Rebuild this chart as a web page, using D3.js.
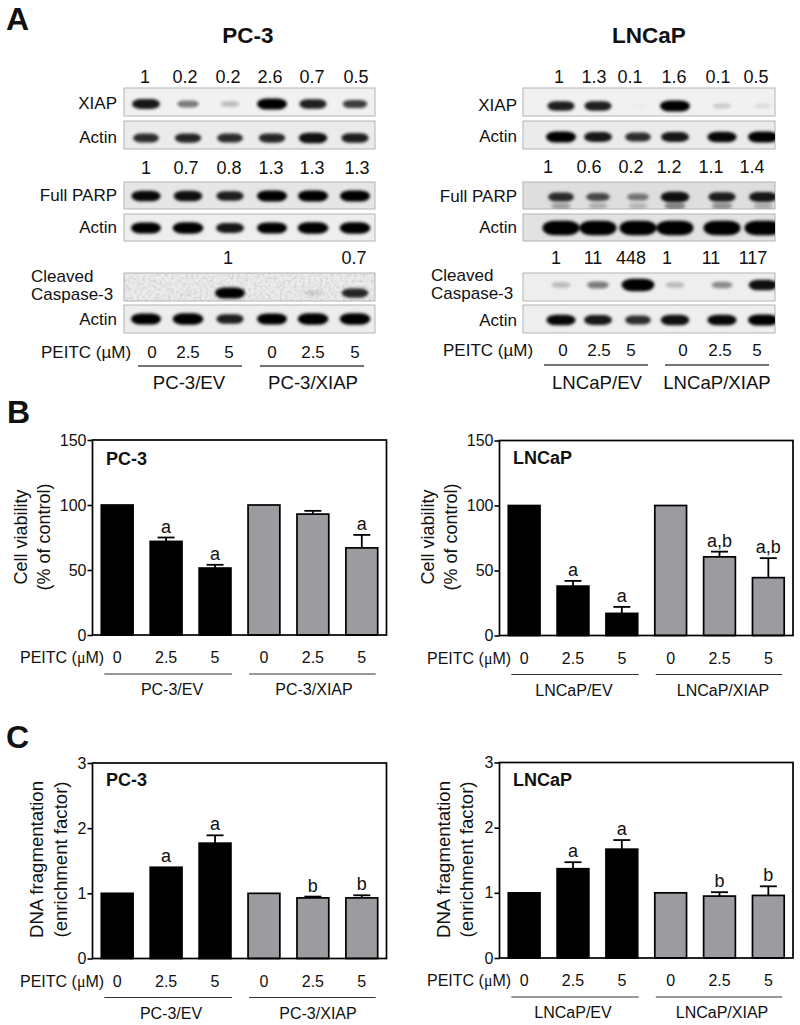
<!DOCTYPE html>
<html>
<head>
<meta charset="utf-8">
<title>PEITC XIAP figure</title>
<script src="https://cdn.jsdelivr.net/npm/d3@7"></script>
<style>
  html, body { margin: 0; padding: 0; background: #fff; }
  svg { display: block; }
  text { font-family: "Liberation Sans", Arial, sans-serif; fill: #111; }
</style>
</head>
<body>
<div id="chart"></div>
<script>
// values
var doses = ["0", "2.5", "5", "0", "2.5", "5"];
var lanes = [0, 1, 2, 3, 4, 5];

var viabilityPC3 = [100, 72, 51.5, 100, 93, 67];
var viabilityPC3Err = [0, 3, 2.5, 0, 2.5, 10];
var viabilityPC3Marks = ["", "a", "a", "", "", "a"];
var viabilityLNCaP = [100, 38, 17, 100, 60.5, 44.5];
var viabilityLNCaPErr = [0, 4, 5, 0, 4, 15];
var viabilityLNCaPMarks = ["", "a", "a", "", "a,b", "a,b"];

var dnaPC3 = [1, 1.4, 1.77, 1, 0.93, 0.93];
var dnaPC3Err = [0, 0, 0.12, 0, 0.02, 0.04];
var dnaPC3Marks = ["", "a", "a", "", "b", "b"];
var dnaLNCaP = [1, 1.37, 1.67, 1, 0.95, 0.96];
var dnaLNCaPErr = [0, 0.1, 0.14, 0, 0.06, 0.14];
var dnaLNCaPMarks = ["", "a", "a", "", "b", "b"];

// relative band density per lane
var pc3Xiap = [0.85, 0.4, 0.2, 1, 0.8, 0.6];
var pc3Actin1 = [0.7, 0.75, 0.7, 0.75, 0.9, 0.8];
var pc3Parp = [0.95, 0.9, 0.8, 1, 1, 1];
var pc3Actin2 = [1, 1.05, 0.85, 1, 1.05, 1.05];
var pc3Casp = [0, 0.03, 1, 0, 0.12, 0.75];
var pc3Actin3 = [1, 1.05, 0.8, 1, 1.05, 1.05];

var lncapXiap = [0.8, 0.8, 0.02, 1, 0.15, 0.08];
var lncapActin1 = [1, 0.85, 0.7, 0.85, 0.95, 1];
var lncapParp = [0.7, 0.55, 0.4, 0.9, 0.8, 0.85];
var lncapParpLower = [0.25, 0.2, 0.18, 0.35, 0.3, 0.22];
var lncapActin2 = [1.5, 1.5, 1.5, 1.5, 1.5, 1.5];
var lncapCasp = [0.2, 0.4, 1.2, 0.2, 0.35, 0.9];
var lncapActin3 = [0.95, 0.85, 0.7, 0.9, 0.95, 1];

// quantification printed over the blots
var pc3Quant = [
  ["1", "0.2", "0.2", "2.6", "0.7", "0.5"],
  ["1", "0.7", "0.8", "1.3", "1.3", "1.3"],
  ["", "", "1", "", "", "0.7"]
];
var lncapQuant = [
  ["1", "1.3", "0.1", "1.6", "0.1", "0.5"],
  ["1", "0.6", "0.2", "1.2", "1.1", "1.4"],
  ["1", "11", "448", "1", "11", "117"]
];

var svg = d3.select("#chart").append("svg")
  .attr("width", 800)
  .attr("height", 1025);

var defs = svg.append("defs");
defs.append("filter").attr("id", "bandBlur")
  .attr("x", "-20%").attr("y", "-50%").attr("width", "140%").attr("height", "200%")
  .append("feGaussianBlur").attr("stdDeviation", 1.5);
var noise = defs.append("filter").attr("id", "speckle")
  .attr("x", 0).attr("y", 0).attr("width", 1).attr("height", 1);
noise.append("feTurbulence").attr("type", "fractalNoise").attr("baseFrequency", 0.35).attr("numOctaves", 2).attr("seed", 4);
noise.append("feColorMatrix").attr("type", "matrix")
  .attr("values", "0 0 0 0 0.3  0 0 0 0 0.3  0 0 0 0 0.3  0.7 0 0 0 -0.28");

function label(g, x, y, str, size, opts) {
  opts = opts || {};
  return g.append("text")
    .attr("x", x).attr("y", y)
    .attr("font-size", size)
    .attr("font-weight", opts.bold ? "bold" : null)
    .attr("text-anchor", opts.anchor || "start")
    .text(str);
}

var bandW = d3.scaleLinear().domain([0, 1]).range([16, 30]);
var bandH = d3.scaleLinear().domain([0, 1]).range([4, 11]);
var bandOp = d3.scaleLinear().domain([0, 0.2, 0.6, 1]).range([0, 0.22, 0.75, 1]).clamp(true);

function drawBands(parent, values, bandY, laneX) {
  parent.append("g").attr("filter", "url(#bandBlur)")
    .selectAll("rect").data(values).enter().append("rect")
    .attr("x", function(d, i) { return laneX(i) - bandW(d) / 2; })
    .attr("y", function(d) { return bandY - bandH(d) / 2; })
    .attr("width", function(d) { return bandW(d); })
    .attr("height", function(d) { return bandH(d); })
    .attr("rx", function(d) { return bandW(d) * 0.32; })
    .attr("ry", function(d) { return bandH(d) / 2; })
    .attr("fill", "#050505")
    .attr("fill-opacity", function(d) { return bandOp(d); });
}

function drawBlot(g, id, x0, x1, r, laneX) {
  defs.append("clipPath").attr("id", id)
    .append("rect").attr("x", x0).attr("y", r.top).attr("width", x1 - x0).attr("height", r.bottom - r.top);
  g.append("rect")
    .attr("x", x0).attr("y", r.top).attr("width", x1 - x0).attr("height", r.bottom - r.top)
    .attr("fill", r.bg).attr("stroke", "#b4b4b4").attr("stroke-width", 1);
  if (r.speckled) {
    g.append("rect")
      .attr("x", x0).attr("y", r.top).attr("width", x1 - x0).attr("height", r.bottom - r.top)
      .attr("filter", "url(#speckle)");
  }
  var clip = g.append("g").attr("clip-path", "url(#" + id + ")");
  if (r.lower) drawBands(clip, r.lower, r.lowerY, laneX);
  drawBands(clip, r.values, r.bandY, laneX);
}

function drawWestern(p) {
  var g = svg.append("g");
  var laneX = d3.scaleOrdinal().domain(lanes).range(p.laneCenters);
  label(g, p.titleX, 43, p.title, 22.5, { bold: true, anchor: "middle" });

  p.rows.forEach(function(r, i) {
    drawBlot(g, p.id + i, p.x0, p.x1, r, laneX);
    if (r.name) label(g, p.labelEnd, r.baseline, r.name, 17, { anchor: "end" });
  });
  label(g, p.cleavedX, p.cleavedY, "Cleaved", 17);
  label(g, p.cleavedX, p.cleavedY + 18, "Caspase-3", 17);

  p.quant.forEach(function(row, i) {
    row.forEach(function(t, j) {
      if (t) label(g, p.quantX[i][j], p.quantY[i], t, 18, { anchor: "middle" });
    });
  });

  label(g, p.peitcX, p.peitcY, "PEITC (\u00b5M)", 17);
  doses.forEach(function(d, i) {
    label(g, p.doseX[i], p.peitcY, d, 17, { anchor: "middle" });
  });
  p.groups.forEach(function(gr) {
    g.append("line").attr("x1", gr.x1).attr("x2", gr.x2).attr("y1", p.lineY).attr("y2", p.lineY)
      .attr("stroke", "#444").attr("stroke-width", 1.4);
    label(g, gr.cx, 389, gr.name, 18.6, { anchor: "middle" });
  });
}

function drawBars(p) {
  var g = svg.append("g");
  var x = d3.scaleBand().domain(lanes).range([p.left, p.right]).paddingInner(0.35).paddingOuter(0.18);
  var y = d3.scaleLinear().domain([0, p.max]).range([p.bottom, p.top]);
  var mid = function(i) { return x(i) + x.bandwidth() / 2; };
  var tip = function(i) { return y(p.values[i] + p.errors[i]); };

  var yAxis = d3.axisLeft(y).tickValues(p.ticks).tickSize(5).tickPadding(1).tickFormat(d3.format("d"));
  var axisG = g.append("g").attr("transform", "translate(" + p.left + ",0)").call(yAxis);
  axisG.select(".domain").remove();
  axisG.selectAll("line").attr("stroke", "#000").attr("stroke-width", 1.6);
  axisG.selectAll("text").attr("font-size", 16).attr("font-family", "Liberation Sans").attr("fill", "#111");

  // error bars go under the bars
  var errs = g.append("g").selectAll("g")
    .data(lanes.filter(function(i) { return p.errors[i] > 0; }))
    .enter().append("g");
  errs.append("line")
    .attr("x1", mid).attr("x2", mid)
    .attr("y1", function(i) { return y(p.values[i]); })
    .attr("y2", tip)
    .attr("stroke", "#000").attr("stroke-width", 1.8);
  errs.append("line")
    .attr("x1", function(i) { return mid(i) - 8.5; })
    .attr("x2", function(i) { return mid(i) + 8.5; })
    .attr("y1", tip).attr("y2", tip)
    .attr("stroke", "#000").attr("stroke-width", 1.8);

  g.append("g").selectAll("rect").data(p.values).enter().append("rect")
    .attr("x", function(d, i) { return x(i); })
    .attr("y", function(d) { return y(d); })
    .attr("width", x.bandwidth())
    .attr("height", function(d) { return y(0) - y(d); })
    .attr("fill", function(d, i) { return i < 3 ? "#000" : "#9c9ca0"; })
    .attr("stroke", "#000").attr("stroke-width", 1.7);

  g.append("rect")
    .attr("x", p.left).attr("y", p.top)
    .attr("width", p.right - p.left).attr("height", p.bottom - p.top)
    .attr("fill", "none").attr("stroke", "#000").attr("stroke-width", 1.7);

  p.marks.forEach(function(m, i) {
    if (m) label(g, mid(i), tip(i) - 5, m, 18, { anchor: "middle" });
  });

  label(g, p.left + 13.5, p.top + p.nameDy, p.name, 18, { bold: true });

  p.yTitle.forEach(function(t, i) {
    g.append("text")
      .attr("transform", "translate(" + p.titleX[i] + "," + p.titleCy + ") rotate(-90)")
      .attr("font-size", p.titleSize).attr("text-anchor", "middle").text(t);
  });

  // dose row below the frame
  var ty = p.bottom + 28;
  var pe = label(g, p.left - 72.5, ty, "PEITC (", 16);
  pe.append("tspan").attr("font-family", "Liberation Serif").text("\u03bc");
  pe.append("tspan").text("M)");
  doses.forEach(function(d, i) {
    label(g, mid(i), ty, d, 16, { anchor: "middle" });
  });
  var lineY = p.bottom + 39;
  [[x(0) + 3, x(2) + x.bandwidth() + 1], [x(3) + 1, x(5) + x.bandwidth() - 2]].forEach(function(seg, i) {
    g.append("line").attr("x1", seg[0]).attr("x2", seg[1]).attr("y1", lineY).attr("y2", lineY)
      .attr("stroke", "#333").attr("stroke-width", 1);
    label(g, p.groupX[i], p.bottom + 60, p.groups[i], 16, { anchor: "middle" });
  });
}

// panel letters
label(svg, 6, 30, "A", 32, { bold: true });
label(svg, 7, 423, "B", 32, { bold: true });
label(svg, 6, 748, "C", 32, { bold: true });

drawWestern({
  id: "pc3blot", title: "PC-3", titleX: 248, x0: 124, x1: 375, laneCenters: [146, 188, 230, 272, 313, 355], labelEnd: 117,
  rows: [
    { name: "XIAP", top: 88, bottom: 116, bandY: 104, values: pc3Xiap, baseline: 109, bg: "#f1f1f1" },
    { name: "Actin", top: 121, bottom: 149, bandY: 138, values: pc3Actin1, baseline: 143, bg: "#ebebeb" },
    { name: "Full PARP", top: 182, bottom: 209, bandY: 196, values: pc3Parp, baseline: 201, bg: "#e6e6e6" },
    { name: "Actin", top: 214, bottom: 241, bandY: 228, values: pc3Actin2, baseline: 233, bg: "#eeeeee" },
    { name: "", top: 273, bottom: 301, bandY: 293, values: pc3Casp, bg: "#ececec", speckled: true },
    { name: "Actin", top: 305, bottom: 333, bandY: 319, values: pc3Actin3, baseline: 325, bg: "#ededed" }
  ],
  cleavedX: 31, cleavedY: 282,
  quant: pc3Quant,
  quantX: [[145, 185, 228, 270, 312, 356], [146, 186, 229, 271, 312, 357], [0, 0, 228, 0, 0, 354]],
  quantY: [83, 174, 264],
  peitcX: 41, peitcY: 358, doseX: [152, 188, 229, 272, 313, 355], lineY: 366,
  groups: [
    { name: "PC-3/EV", x1: 138, x2: 242, cx: 189 },
    { name: "PC-3/XIAP", x1: 260, x2: 364, cx: 313 }
  ]
});

drawWestern({
  id: "lncapblot", title: "LNCaP", titleX: 649, x0: 523, x1: 775, laneCenters: [561, 598, 638, 675, 722, 763], labelEnd: 517,
  rows: [
    { name: "XIAP", top: 88, bottom: 116, bandY: 106, values: lncapXiap, baseline: 111, bg: "#f1f1f1" },
    { name: "Actin", top: 121, bottom: 149, bandY: 137, values: lncapActin1, baseline: 142, bg: "#ebebeb" },
    { name: "Full PARP", top: 182, bottom: 209, bandY: 197, values: lncapParp, lower: lncapParpLower, lowerY: 206, baseline: 202, bg: "#dedede" },
    { name: "Actin", top: 214, bottom: 241, bandY: 228, values: lncapActin2, baseline: 233, bg: "#e2e2e2" },
    { name: "", top: 273, bottom: 301, bandY: 285, values: lncapCasp, bg: "#eeeeee" },
    { name: "Actin", top: 305, bottom: 333, bandY: 320, values: lncapActin3, baseline: 326, bg: "#eeeeee" }
  ],
  cleavedX: 431, cleavedY: 281,
  quant: lncapQuant,
  quantX: [[559, 594, 630, 674, 718, 756], [548, 589, 631, 669, 711, 752], [556, 593, 631, 667, 711, 753]],
  quantY: [83, 173, 264],
  peitcX: 443, peitcY: 356, doseX: [563, 599, 631, 683, 720, 757], lineY: 365,
  groups: [
    { name: "LNCaP/EV", x1: 544, x2: 648, cx: 597 },
    { name: "LNCaP/XIAP", x1: 665, x2: 769, cx: 717 }
  ]
});

drawBars({
  left: 92.5, right: 386.5, top: 440, bottom: 635, max: 150, ticks: [0, 50, 100, 150],
  values: viabilityPC3, errors: viabilityPC3Err, marks: viabilityPC3Marks, name: "PC-3", nameDy: 25,
  yTitle: ["Cell viability", "(% of control)"], titleX: [27, 50], titleCy: 537, titleSize: 18,
  groups: ["PC-3/EV", "PC-3/XIAP"], groupX: [172, 314]
});
drawBars({
  left: 499.5, right: 793, top: 440.5, bottom: 635.5, max: 150, ticks: [0, 50, 100, 150],
  values: viabilityLNCaP, errors: viabilityLNCaPErr, marks: viabilityLNCaPMarks, name: "LNCaP", nameDy: 23,
  yTitle: ["Cell viability", "(% of control)"], titleX: [434, 457], titleCy: 537, titleSize: 18,
  groups: ["LNCaP/EV", "LNCaP/XIAP"], groupX: [574, 723]
});
drawBars({
  left: 92.5, right: 386.5, top: 763, bottom: 958.5, max: 3, ticks: [0, 1, 2, 3],
  values: dnaPC3, errors: dnaPC3Err, marks: dnaPC3Marks, name: "PC-3", nameDy: 23,
  yTitle: ["DNA fragmentation", "(enrichment factor)"], titleX: [43, 67], titleCy: 859.5, titleSize: 18.6,
  groups: ["PC-3/EV", "PC-3/XIAP"], groupX: [171, 318]
});
drawBars({
  left: 499.5, right: 793, top: 762.5, bottom: 958, max: 3, ticks: [0, 1, 2, 3],
  values: dnaLNCaP, errors: dnaLNCaPErr, marks: dnaLNCaPMarks, name: "LNCaP", nameDy: 23,
  yTitle: ["DNA fragmentation", "(enrichment factor)"], titleX: [450, 473], titleCy: 859.5, titleSize: 18.6,
  groups: ["LNCaP/EV", "LNCaP/XIAP"], groupX: [573, 722]
});
</script>
</body>
</html>
